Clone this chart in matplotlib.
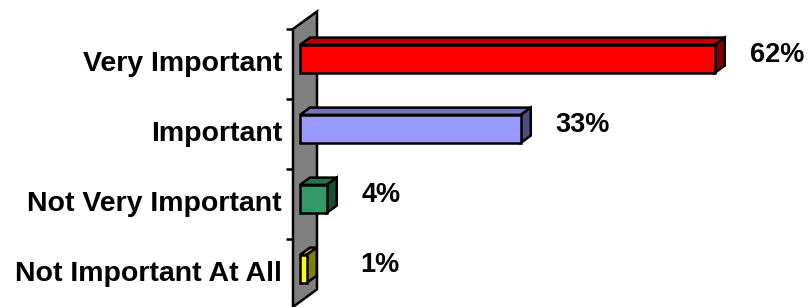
import matplotlib.pyplot as plt
from matplotlib.patches import Polygon

plt.rcParams['font.family'] = ['Liberation Sans', 'DejaVu Sans']

categories = ["Very Important", "Important", "Not Very Important", "Not Important At All"]
values = [62, 33, 4, 1]
labels = ["62%", "33%", "4%", "1%"]
colors = ["#FF0000", "#9999FF", "#339966", "#FFFF00"]

# pixel scale of the chart (px per % and px per category slot)
SX = 6.69
SY = 70.0
W, H = 810, 307
x0_px, y0_px = 293, 29          # front edge of the wall, top of first slot


def shade(c, f):
    c = c.lstrip("#")
    r, g, b = [int(c[i:i + 2], 16) for i in (0, 2, 4)]
    return (r * f / 255, g * f / 255, b * f / 255)


def proj(v, c, d):
    # v in %, c in category units, d = depth in px (going back into the chart)
    return (v + d / SX, c - d * 0.73 / SY)


fig = plt.figure(figsize=(W / 100, H / 100), dpi=100)
ax = fig.add_axes([0, 0, 1, 1])
ax.set_xlim(-x0_px / SX, (W - x0_px) / SX)
ax.set_ylim((H - y0_px) / SY, -y0_px / SY)
ax.axis("off")

n = len(categories)
D = 24  # wall depth
ctop, cbot = 0, n - 0.03
wall = [proj(0, ctop, 0), proj(0, ctop, D), proj(0, cbot, D), proj(0, cbot, 0)]
ax.add_patch(Polygon(wall, closed=True, facecolor="#808080", edgecolor="black", lw=1.8, zorder=1))

# tick marks on the wall edge
for k in range(n):
    ax.plot([-7 / SX, 0], [k, k], color="black", lw=1.8, zorder=2, solid_capstyle="butt")

d1, d2 = 7, 17
bh = 0.4
for i, (v, col) in enumerate(zip(values, colors)):
    c = i + 0.5
    ct, cb = c - bh / 2, c + bh / 2
    front = [proj(0, ct, d1), proj(v, ct, d1), proj(v, cb, d1), proj(0, cb, d1)]
    top = [proj(0, ct, d1), proj(v, ct, d1), proj(v, ct, d2), proj(0, ct, d2)]
    side = [proj(v, ct, d1), proj(v, ct, d2), proj(v, cb, d2), proj(v, cb, d1)]
    ax.add_patch(Polygon(top, closed=True, facecolor=shade(col, 0.75), edgecolor="black", lw=1.8, zorder=3))
    ax.add_patch(Polygon(side, closed=True, facecolor=shade(col, 0.5), edgecolor="black", lw=1.8, zorder=3))
    ax.add_patch(Polygon(front, closed=True, facecolor=col, edgecolor="black", lw=1.8, zorder=4))

    lx, ly = proj(max(v, 3.7), c, (d1 + d2) / 2)
    ax.text(lx + 30 / SX, ly, labels[i], ha="left", va="center", fontsize=19.5,
            fontweight="bold", color="black")
    ax.text(-11 / SX, c, categories[i], ha="right", va="center", fontsize=20.5,
            fontweight="bold", color="black")

fig.savefig("out.png", dpi=100)
